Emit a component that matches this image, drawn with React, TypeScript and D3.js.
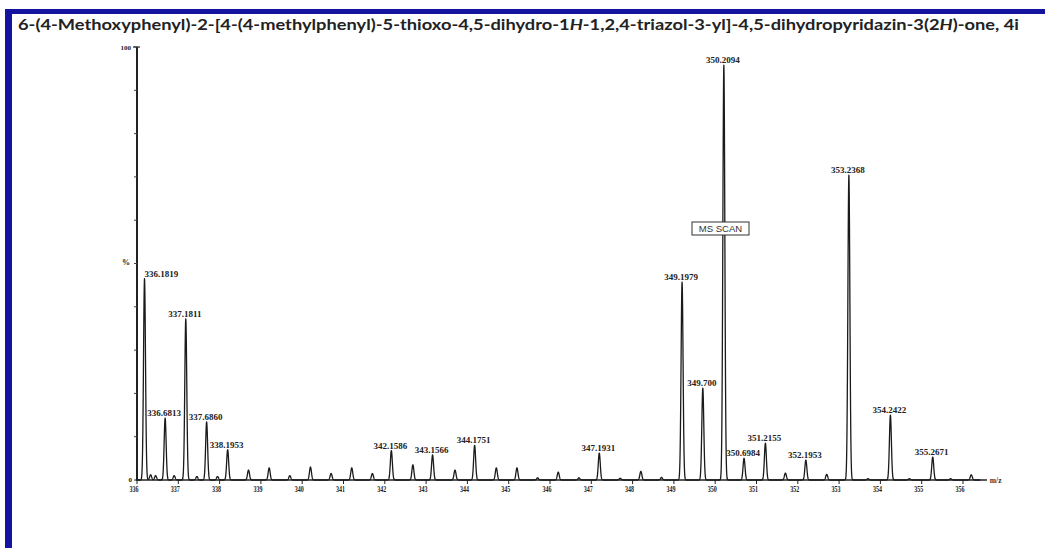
import React from "react";
import * as d3 from "d3";

const titleStart = "6-(4-Methoxyphenyl)-2-[4-(4-methylphenyl)-5-thioxo-4,5-dihydro-1";
const titleMid = "-1,2,4-triazol-3-yl]-4,5-dihydropyridazin-3(2";
const titleEnd = ")-one, 4i";

const xTickValues = [336, 337, 338, 339, 340, 341, 342, 343, 344, 345, 346, 347, 348, 349, 350, 351, 352, 353, 354, 355, 356];
const yTickValues = [0, 10, 20, 30, 40, 50, 60, 70, 80, 90, 100];

const peakMz = [
  336.1819, 336.33, 336.45, 336.6813, 336.9, 337.1811, 337.45, 337.686, 337.95, 338.1953,
  338.7, 339.2, 339.7, 340.2, 340.7, 341.2, 341.7, 342.1586, 342.68, 343.1566,
  343.7, 344.1751, 344.7, 345.2, 345.7, 346.2, 346.7, 347.1931, 347.7, 348.2,
  348.7, 349.1979, 349.7, 350.2094, 350.6984, 351.2155, 351.7, 352.1953, 352.7, 353.2368,
  353.7, 354.2422, 354.7, 355.2671, 355.7, 356.2,
];
const peakIntensity = [
  46.5, 1.2, 1.0, 14.3, 1.0, 37.2, 0.8, 13.4, 0.8, 7.0,
  2.3, 2.8, 1.0, 3.0, 1.5, 2.8, 1.5, 6.8, 3.5, 5.8,
  2.3, 8.0, 2.8, 2.8, 0.5, 1.8, 0.5, 6.2, 0.4, 2.0,
  0.6, 45.7, 21.2, 95.8, 5.0, 8.5, 1.6, 4.6, 1.3, 70.4,
  0.3, 15.0, 0.3, 5.3, 0.3, 1.2,
];

const labelText = [
  "336.1819", "336.6813", "337.1811", "337.6860", "338.1953", "342.1586", "343.1566",
  "344.1751", "347.1931", "349.1979", "349.700", "350.2094", "350.6984", "351.2155",
  "352.1953", "353.2368", "354.2422", "355.2671",
];

export default function App() {
  const W = 1045, H = 548;
  const x = d3.scaleLinear().domain([336, 356]).range([137, 963]);
  const y = d3.scaleLinear().domain([0, 100]).range([480, 47]);

  const peaks = peakMz.map((mz, i) => ({ mz, h: peakIntensity[i] }));
  const sigma = 0.024;
  const grid = d3.range(335.97, 356.42, 0.004).concat(peakMz).sort((a, b) => a - b);
  const trace: [number, number][] = grid.map((m) => [
    m,
    d3.sum(peaks, (p) => p.h * Math.exp(-((m - p.mz) * (m - p.mz)) / (2 * sigma * sigma))),
  ]);
  const line = d3.line<[number, number]>().x((d) => x(d[0])).y((d) => y(d[1]));

  const labelFont = "'Liberation Serif', 'DejaVu Serif', serif";

  return (
    <svg
      width={W}
      height={H}
      style={{ position: "absolute", left: 0, top: 0, background: "#fff" }}
    >
      <rect x={0} y={0} width={W} height={H} fill="#fff" />
      {/* blue frame */}
      <rect x={5} y={9} width={W - 5} height={5} fill="#1414a0" />
      <rect x={5} y={9} width={7} height={H - 9} fill="#1414a0" />

      {/* title */}
      <text
        x={18}
        y={30}
        fontFamily="Lato, 'Open Sans', sans-serif"
        fontWeight={700}
        fontSize={14.5}
        fill="#222"
        textLength={1001}
        lengthAdjust="spacingAndGlyphs"
      >
        {titleStart}
        <tspan fontStyle="italic">H</tspan>
        {titleMid}
        <tspan fontStyle="italic">H</tspan>
        {titleEnd}
      </text>

      {/* y axis */}
      <line x1={x(336)} x2={x(336)} y1={y(100)} y2={y(0)} stroke="#222" strokeWidth={2} />
      <line x1={x(336) - 4} x2={x(336) + 3} y1={y(100)} y2={y(100)} stroke="#222" strokeWidth={1.2} />
      {yTickValues.map((v) => (
        <line key={v} x1={x(336) - 3} x2={x(336)} y1={y(v)} y2={y(v)} stroke="#444" strokeWidth={1} />
      ))}
      <text x={x(336) - 6} y={y(100) + 3} textAnchor="end" fontFamily={labelFont} fontWeight={700} fontSize={7} fill="#222">100</text>
      <text x={x(336) - 7} y={y(50) + 1} textAnchor="end" fontFamily={labelFont} fontWeight={700} fontSize={8} fill="#222">%</text>
      <text x={x(336) - 5} y={y(0) + 2} textAnchor="end" fontFamily={labelFont} fontWeight={700} fontSize={7} fill="#222">0</text>

      {/* x axis */}
      <line x1={x(336)} x2={x(356.58)} y1={y(0)} y2={y(0)} stroke="#222" strokeWidth={1.6} />
      {xTickValues.map((v) => (
        <g key={v}>
          <line x1={x(v)} x2={x(v)} y1={y(0)} y2={y(0) + 4} stroke="#222" strokeWidth={1} />
          <text
            x={x(v) - 3}
            y={y(0) + 12}
            textAnchor="middle"
            fontFamily={labelFont}
            fontWeight={700}
            fontSize={8}
            fill="#222"
            textLength={9}
            lengthAdjust="spacingAndGlyphs"
          >
            {v}
          </text>
        </g>
      ))}
      <text x={x(356.65)} y={y(0) + 3} fontFamily={labelFont} fontWeight={700} fontSize={7.5} fill="#333">m/z</text>

      {/* spectrum trace */}
      <path d={line(trace) || ""} fill="none" stroke="#1a1a1a" strokeWidth={1.3} strokeLinejoin="round" />

      {/* peak labels */}
      {labelText.map((t, i) => {
        const mz = parseFloat(t);
        const idx = peakMz.findIndex((m) => Math.abs(m - mz) < 0.01);
        const h = idx >= 0 ? peakIntensity[idx] : 0;
        const first = i === 0;
        return (
          <text
            key={t}
            x={first ? x(mz) : x(mz) - 1}
            y={y(h) - 2}
            textAnchor={first ? "start" : "middle"}
            fontFamily={labelFont}
            fontWeight={700}
            fontSize={9}
            fill="#222"
          >
            {t}
          </text>
        );
      })}

      {/* MS SCAN box */}
      <g>
        <rect x={692} y={222} width={57} height={13} fill="#fff" stroke="#333" strokeWidth={1} />
        <text x={720.5} y={232} textAnchor="middle" fontFamily="'Liberation Sans', Arial, sans-serif" fontSize={9.5} fill="#333">MS SCAN</text>
      </g>
    </svg>
  );
}
